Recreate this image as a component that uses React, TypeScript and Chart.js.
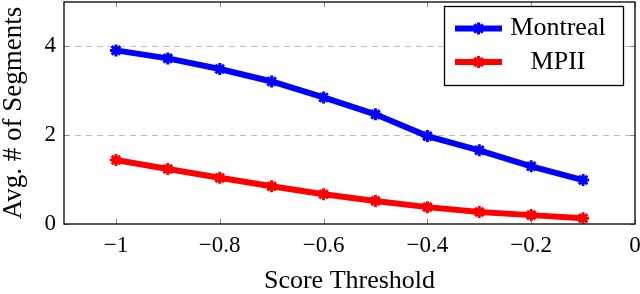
import React, { useEffect, useRef } from "react";
import { Chart, registerables } from "chart.js";

Chart.register(...registerables);

const thresholds = [-1, -0.9, -0.8, -0.7, -0.6, -0.5, -0.4, -0.3, -0.2, -0.1];
const montreal = [3.91, 3.73, 3.49, 3.21, 2.85, 2.47, 1.98, 1.66, 1.3, 0.99];
const mpii = [1.44, 1.24, 1.04, 0.85, 0.67, 0.52, 0.38, 0.27, 0.2, 0.13];
const xTicks = [-1, -0.8, -0.6, -0.4, -0.2, 0];
const yTicks = [0, 2, 4];
const seriesNames = ["Montreal", "MPII"];
const seriesColors = ["#0000ff", "#ff0000"];

const FONT = "'Liberation Serif', 'Times New Roman', serif";

const fmtX = (v: number) => {
  if (v === 0) return "0";
  const s = Math.abs(v).toString();
  return (v < 0 ? "\u2212" : "") + s;
};

const framePlugin = {
  id: "frame",
  beforeDatasetsDraw(chart: any) {
    const { ctx, chartArea: a, scales } = chart;
    const ys = scales.y;
    const xs = scales.x;
    ctx.save();
    ctx.strokeStyle = "#bdbdbd";
    ctx.lineWidth = 1;
    ctx.setLineDash([6, 5]);
    yTicks.forEach((v) => {
      if (v === 0) return;
      const y = Math.round(ys.getPixelForValue(v)) + 0.5;
      ctx.beginPath();
      ctx.moveTo(a.left, y);
      ctx.lineTo(a.right, y);
      ctx.stroke();
    });
    ctx.setLineDash([]);
    ctx.strokeStyle = "#8a8a8a";
    ctx.lineWidth = 1;
    const L = 5;
    xTicks.forEach((v) => {
      const x = Math.round(xs.getPixelForValue(v)) + 0.5;
      ctx.beginPath();
      ctx.moveTo(x, a.bottom);
      ctx.lineTo(x, a.bottom - L);
      ctx.moveTo(x, a.top);
      ctx.lineTo(x, a.top + L);
      ctx.stroke();
    });
    yTicks.forEach((v) => {
      const y = Math.round(ys.getPixelForValue(v)) + 0.5;
      ctx.beginPath();
      ctx.moveTo(a.left, y);
      ctx.lineTo(a.left + L, y);
      ctx.moveTo(a.right, y);
      ctx.lineTo(a.right - L, y);
      ctx.stroke();
    });
    ctx.restore();
  },
  afterDatasetsDraw(chart: any) {
    const { ctx, chartArea: a } = chart;
    ctx.save();
    ctx.strokeStyle = "#000";
    ctx.lineWidth = 1.3;
    ctx.strokeRect(a.left, a.top, a.right - a.left, a.bottom - a.top);
    ctx.restore();
  },
  afterDraw(chart: any) {
    const { ctx } = chart;
    ctx.save();
    const bx = 444.5, by = 6.5, bw = 179, bh = 79;
    ctx.fillStyle = "#fff";
    ctx.fillRect(bx, by, bw, bh);
    ctx.strokeStyle = "#000";
    ctx.lineWidth = 1.3;
    ctx.strokeRect(bx, by, bw, bh);
    const rows = [28.5, 62];
    seriesNames.forEach((name, i) => {
      const y = rows[i];
      ctx.strokeStyle = seriesColors[i];
      ctx.lineWidth = 6;
      ctx.beginPath();
      ctx.moveTo(455, y);
      ctx.lineTo(502, y);
      ctx.stroke();
      ctx.lineWidth = 3;
      const cx = 478.5, r = 6;
      ctx.beginPath();
      for (let k = 0; k < 4; k++) {
        const ang = (k * Math.PI) / 4;
        ctx.moveTo(cx - Math.cos(ang) * r, y - Math.sin(ang) * r);
        ctx.lineTo(cx + Math.cos(ang) * r, y + Math.sin(ang) * r);
      }
      ctx.stroke();
      ctx.fillStyle = "#000";
      ctx.font = `26px ${FONT}`;
      ctx.textAlign = "center";
      ctx.textBaseline = "middle";
      ctx.fillText(name, 558, y);
    });
    ctx.restore();
  },
};

export default function App() {
  const ref = useRef<HTMLCanvasElement | null>(null);
  useEffect(() => {
    if (!ref.current) return;
    const chart = new Chart(ref.current, {
      type: "line",
      data: {
        datasets: seriesNames.map((name, i) => ({
          label: name,
          data: thresholds.map((t, j) => ({ x: t, y: (i === 0 ? montreal : mpii)[j] })),
          borderColor: seriesColors[i],
          backgroundColor: seriesColors[i],
          borderWidth: 6,
          pointStyle: "star",
          pointRadius: 6,
          pointBorderWidth: 3,
          pointBorderColor: seriesColors[i],
          tension: 0,
        })),
      },
      options: {
        animation: false,
        responsive: true,
        maintainAspectRatio: false,
        layout: { autoPadding: false, padding: { top: 2, right: 5, left: 0, bottom: 0 } },
        plugins: { legend: { display: false }, tooltip: { enabled: false } },
        scales: {
          x: {
            type: "linear",
            min: -1.1,
            max: 0,
            grid: { display: false, drawTicks: false },
            border: { display: false },
            afterBuildTicks: (s: any) => {
              s.ticks = xTicks.map((v) => ({ value: v }));
            },
            afterFit: (s: any) => {
              s.height = 70;
              s.paddingLeft = 0;
              s.paddingRight = 0;
            },
            ticks: {
              padding: 8,
              color: "#000",
              font: { family: FONT, size: 23 },
              maxRotation: 0,
              autoSkip: false,
              callback: (v: any) => fmtX(Number(v)),
            },
            title: {
              display: true,
              text: "Score Threshold",
              color: "#000",
              font: { family: FONT, size: 26, lineHeight: 1 },
              padding: { top: 0, bottom: 0 },
            },
          },
          y: {
            type: "linear",
            min: 0,
            max: 5,
            grid: { display: false, drawTicks: false },
            border: { display: false },
            afterBuildTicks: (s: any) => {
              s.ticks = yTicks.map((v) => ({ value: v }));
            },
            afterFit: (s: any) => {
              s.width = 64;
              s.paddingTop = 0;
              s.paddingBottom = 0;
            },
            ticks: {
              padding: 8,
              color: "#000",
              font: { family: FONT, size: 23 },
              callback: (v: any) => String(v),
            },
            title: {
              display: true,
              text: "Avg. # of Segments",
              color: "#000",
              font: { family: FONT, size: 27, lineHeight: 1 },
              padding: { top: 0, bottom: 0 },
            },
          },
        },
      },
      plugins: [framePlugin],
    } as any);
    return () => chart.destroy();
  }, []);
  return (
    <div style={{ position: "absolute", left: 0, top: 0, width: 640, height: 294, background: "#fff" }}>
      <canvas ref={ref} />
    </div>
  );
}
